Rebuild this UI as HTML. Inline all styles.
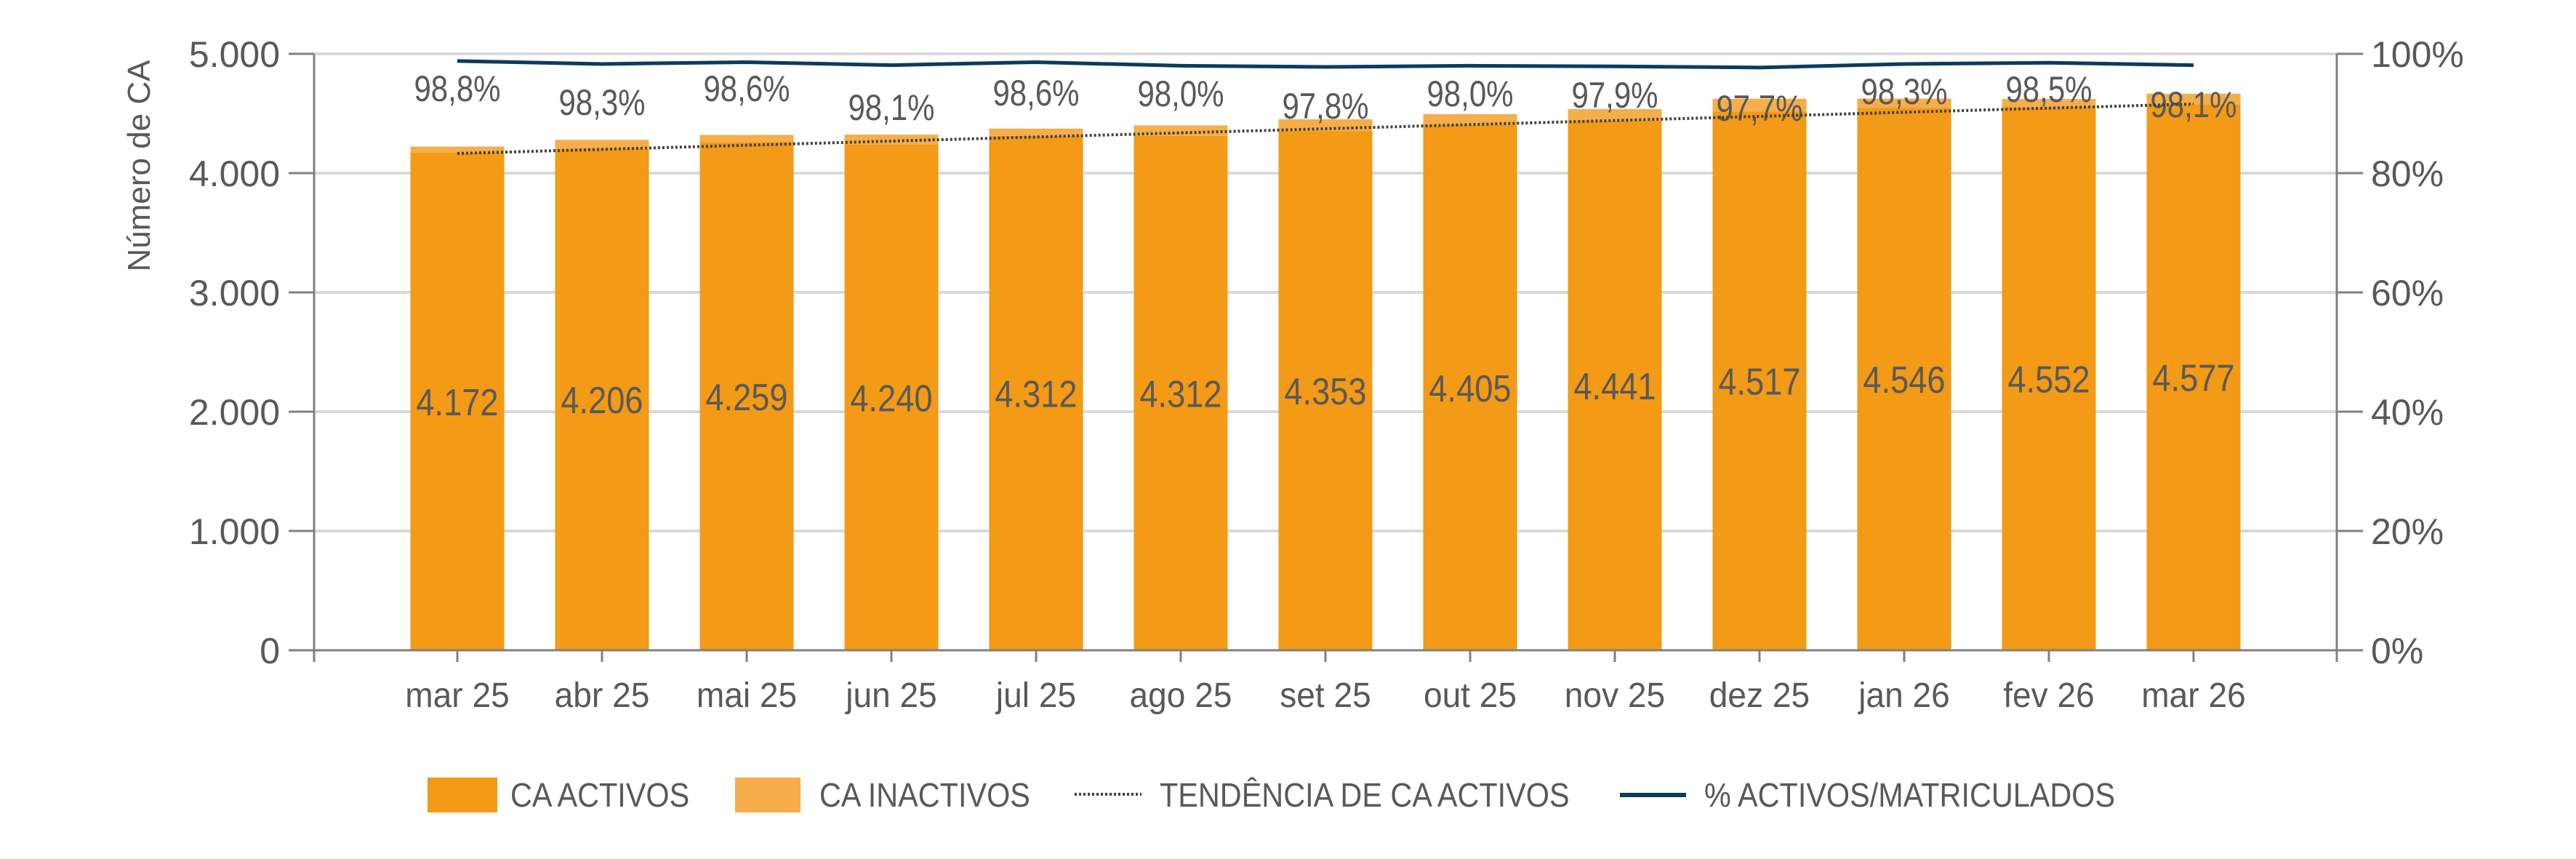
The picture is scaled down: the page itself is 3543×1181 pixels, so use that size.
<!DOCTYPE html>
<html><head><meta charset="utf-8"><style>html,body{margin:0;padding:0;background:#fff}svg{display:block}</style></head>
<body>
<svg id="s" xmlns="http://www.w3.org/2000/svg" width="3543" height="1181" viewBox="0 0 3543 1181" font-family="'Liberation Sans', sans-serif" fill="#595959">
<g stroke="#D9D9D9" stroke-width="4">
<line x1="432" y1="74" x2="3214" y2="74"/><line x1="432" y1="238" x2="3214" y2="238"/>
<line x1="432" y1="402" x2="3214" y2="402"/><line x1="432" y1="566" x2="3214" y2="566"/>
<line x1="432" y1="730" x2="3214" y2="730"/>
</g>
<g id="bars"></g>
<g stroke="#808080" stroke-width="3" fill="none">
<line x1="432" y1="74" x2="432" y2="910"/><line x1="3214" y1="74" x2="3214" y2="910"/>
<line x1="397" y1="894" x2="3250" y2="894"/>
<line x1="397" y1="74" x2="432" y2="74"/><line x1="397" y1="238" x2="432" y2="238"/><line x1="397" y1="402" x2="432" y2="402"/><line x1="397" y1="566" x2="432" y2="566"/><line x1="397" y1="730" x2="432" y2="730"/>
<line x1="3214" y1="74" x2="3250" y2="74"/><line x1="3214" y1="238" x2="3250" y2="238"/><line x1="3214" y1="402" x2="3250" y2="402"/><line x1="3214" y1="566" x2="3250" y2="566"/><line x1="3214" y1="730" x2="3250" y2="730"/>
</g>
<g font-size="50" text-anchor="end">
<text x="385" y="92">5.000</text><text x="385" y="256">4.000</text><text x="385" y="420">3.000</text><text x="385" y="584">2.000</text><text x="385" y="748">1.000</text><text x="385" y="912">0</text>
</g>
<g font-size="50" text-anchor="start">
<text x="3261" y="92">100%</text><text x="3261" y="256">80%</text><text x="3261" y="420">60%</text><text x="3261" y="584">40%</text><text x="3261" y="748">20%</text><text x="3261" y="912">0%</text>
</g>
<text font-size="44" text-anchor="middle" transform="translate(206,228) rotate(-90)">Número de CA</text>
<g id="dyn"></g>
<rect x="588" y="1069" width="96" height="48" fill="#F39A16"/>
<rect x="1011" y="1069" width="90" height="48" fill="#F5AE4A"/>
<line x1="1478" y1="1092" x2="1570" y2="1092" stroke="#404040" stroke-width="4" stroke-dasharray="3 3"/>
<line x1="2228" y1="1093" x2="2319" y2="1093" stroke="#0D3B5C" stroke-width="6"/>
<g id="leg"></g>
<script>
var act=[4172,4206,4259,4240,4312,4312,4353,4405,4441,4517,4546,4552,4577];
var pct=[98.8,98.3,98.6,98.1,98.6,98.0,97.8,98.0,97.9,97.7,98.3,98.5,98.1];
var lab=["mar 25","abr 25","mai 25","jun 25","jul 25","ago 25","set 25","out 25","nov 25","dez 25","jan 26","fev 26","mar 26"];
var ly=[121,140,121,147,127,128,145,128,130,148,125,122,143];
var ns="http://www.w3.org/2000/svg";
function el(t,a,p,txt){var e=document.createElementNS(ns,t);for(var k in a)e.setAttribute(k,a[k]);if(txt)e.textContent=txt;p.appendChild(e);return e;}
function tx(p,x,y,F,anchor,str,k){var e=el("text",{x:x,y:y,"font-size":F,"text-anchor":anchor},p,str);
 try{var w=e.getComputedTextLength();if(w>0&&k!=1){e.setAttribute("textLength",(w*k).toFixed(1));e.setAttribute("lengthAdjust","spacingAndGlyphs");}}catch(err){}
 return e;}
var B=document.getElementById("bars"),D=document.getElementById("dyn"),L=document.getElementById("leg");
var s=0.164,y0=894,pts=[];
for(var i=0;i<13;i++){
 var cx=629+i*199, tot=act[i]/(pct[i]/100);
 var ya=y0-act[i]*s, yt=y0-tot*s;
 el("rect",{x:cx-64.5,y:yt,width:129,height:ya-yt,fill:"#F5AE4A"},B);
 el("rect",{x:cx-64.5,y:ya,width:129,height:y0-ya,fill:"#F39A16"},B);
 el("line",{x1:cx,y1:894,x2:cx,y2:910,stroke:"#808080","stroke-width":3},B);
 pts.push(cx+","+(y0-pct[i]*8.2));
 tx(D,cx,y0-act[i]/2*s+19,52,"middle",act[i].toString().replace(/(\d)(\d{3})$/,"$1.$2"),0.87);
 tx(D,cx,ly[i]+18,50,"middle",pct[i].toFixed(1).replace(".",",")+"%",0.84);
 tx(D,cx,972,48,"middle",lab[i],0.96);
}
el("line",{x1:629,y1:211,x2:3017,y2:143,stroke:"#404040","stroke-width":4,"stroke-dasharray":"3 3"},D);
el("polyline",{points:pts.join(" "),fill:"none",stroke:"#0D3B5C","stroke-width":5},D);
tx(L,702,1109,46,"start","CA ACTIVOS",0.9);
tx(L,1127,1109,46,"start","CA INACTIVOS",0.9);
tx(L,1595,1109,46,"start","TENDÊNCIA DE CA ACTIVOS",0.9);
tx(L,2344,1109,46,"start","% ACTIVOS/MATRICULADOS",0.9);
</script>
</svg>
</body></html>
